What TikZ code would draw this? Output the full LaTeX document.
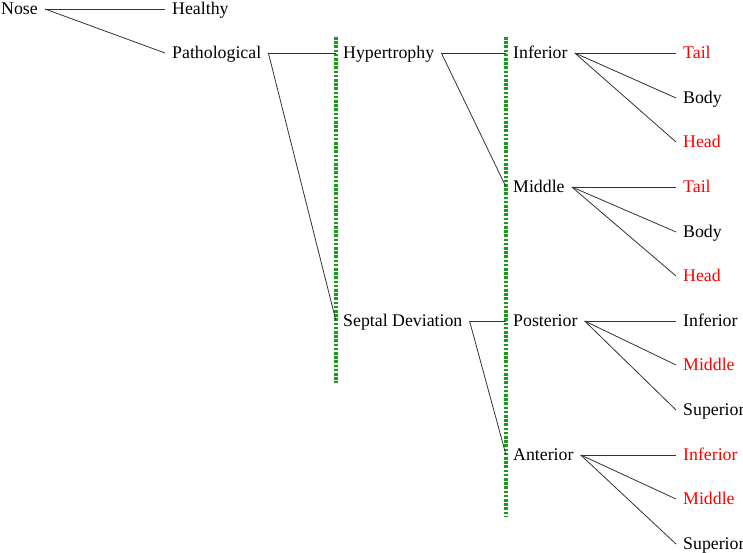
\documentclass[tikz,border=0pt]{standalone}
\usepackage{fontspec}
\setmainfont{Liberation Serif}
\usepackage{tikz}

\definecolor{sepgreen}{RGB}{25,155,25}

\begin{document}
\begin{tikzpicture}[x=1pt, y=-1pt, font=\fontsize{17.8}{20}\selectfont,
  lbl/.style={anchor=west, inner xsep=7pt, inner ysep=0pt, text height=11.5pt, text depth=0pt},
  hot/.style={lbl, text=red},
  edge/.style={draw=black!80, line width=0.8pt},
  sep/.style={draw=sepgreen, line width=3.4pt, dash pattern=on 2.6pt off 1.6pt}]
  \useasboundingbox (0,0) rectangle (743,553);
  % levels 0-2
  \node[lbl] (nose) at (-6,9) {Nose};
  \node[lbl] (healthy) at (165,9) {Healthy};
  \node[lbl] (patho) at (165,53) {Pathological};
  \node[lbl] (hyper) at (336,53) {Hypertrophy};
  \node[lbl] (septal) at (336,321) {Septal Deviation};
  % level 3
  \node[lbl] (inf) at (506,53) {Inferior};
  \node[lbl] (mid) at (506,187) {Middle};
  \node[lbl] (post) at (506,321) {Posterior};
  \node[lbl] (ant) at (506,455) {Anterior};
  % leaves
  \node[hot] (inftail) at (676,53) {Tail};
  \node[lbl] (infbody) at (676,98) {Body};
  \node[hot] (infhead) at (676,142) {Head};
  \node[hot] (midtail) at (676,187) {Tail};
  \node[lbl] (midbody) at (676,232) {Body};
  \node[hot] (midhead) at (676,276) {Head};
  \node[lbl] (postinf) at (676,321) {Inferior};
  \node[hot] (postmid) at (676,365) {Middle};
  \node[lbl] (postsup) at (676,410) {Superior};
  \node[hot] (antinf) at (676,455) {Inferior};
  \node[hot] (antmid) at (676,499) {Middle};
  \node[lbl] (antsup) at (676,544) {Superior};
  % separators
  \draw[sep] (336,37) -- (336,383);
  \draw[sep] (506,37) -- (506,517);
  % edges
  \draw[edge] (nose.east) -- (healthy.west);
  \draw[edge] (nose.east) -- (patho.west);
  \draw[edge] (patho.east) -- (hyper.west);
  \draw[edge] (patho.east) -- (septal.west);
  \draw[edge] (hyper.east) -- (inf.west);
  \draw[edge] (hyper.east) -- (mid.west);
  \draw[edge] (septal.east) -- (post.west);
  \draw[edge] (septal.east) -- (ant.west);
  \draw[edge] (inf.east) -- (inftail.west);
  \draw[edge] (inf.east) -- (infbody.west);
  \draw[edge] (inf.east) -- (infhead.west);
  \draw[edge] (mid.east) -- (midtail.west);
  \draw[edge] (mid.east) -- (midbody.west);
  \draw[edge] (mid.east) -- (midhead.west);
  \draw[edge] (post.east) -- (postinf.west);
  \draw[edge] (post.east) -- (postmid.west);
  \draw[edge] (post.east) -- (postsup.west);
  \draw[edge] (ant.east) -- (antinf.west);
  \draw[edge] (ant.east) -- (antmid.west);
  \draw[edge] (ant.east) -- (antsup.west);
\end{tikzpicture}
\end{document}
